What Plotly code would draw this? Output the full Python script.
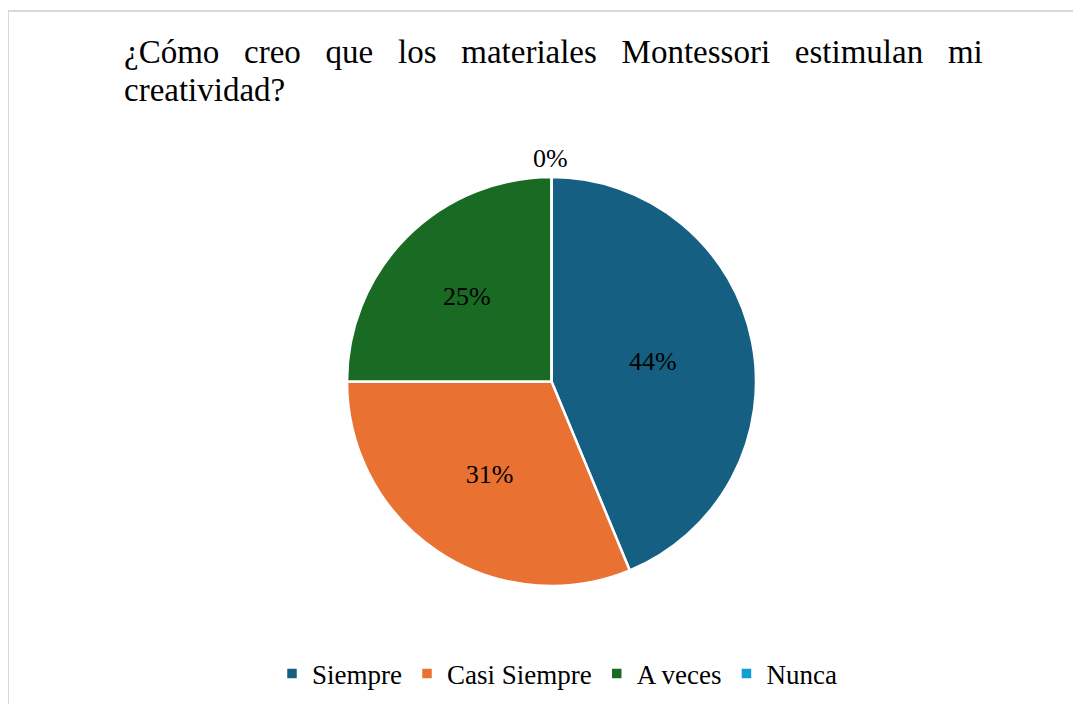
import plotly.graph_objects as go

# ---- data ----------------------------------------------------------------
LABELS = ["Siempre", "Casi Siempre", "A veces", "Nunca"]
COUNTS = [7, 5, 4, 0]
COLORS = ["#156082", "#E97132", "#196B24", "#0F9ED5"]
TITLE_LINE1 = ["¿Cómo", "creo", "que", "los", "materiales", "Montessori", "estimulan", "mi"]
TITLE_LINE2 = "creatividad?"

W, H = 1081, 704
SERIF = "Liberation Serif"
OFF = 8  # page body margin

# pie box in page pixels (center ~ 551,381, radius ~ 204)
px_l, px_r, px_t, px_b = 347 - OFF, 756 - OFF, 177 - OFF, 586 - OFF

total = sum(COUNTS)
zero_labels = [f"{round(100 * v / total)}%" for v in COUNTS if v == 0]

fig = go.Figure(
    go.Pie(
        labels=LABELS, values=COUNTS, sort=False, direction="clockwise", rotation=0,
        marker=dict(colors=COLORS, line=dict(color="white", width=2.5)),
        texttemplate="%{percent:.0%}",
        textposition=["inside" if v else "none" for v in COUNTS],
        insidetextorientation="horizontal",
        textfont=dict(family=SERIF, size=26, color="black"),
        domain=dict(x=[px_l / W, px_r / W], y=[1 - px_b / H, 1 - px_t / H]),
        showlegend=True,
    )
)

gap = "\u00a0" * 3
annotations = [
    dict(text=gap.join(TITLE_LINE1), x=(122 - OFF) / W, y=1 - (52 - OFF) / H, xref="paper", yref="paper",
         xanchor="left", yanchor="middle", showarrow=False,
         font=dict(family=SERIF, size=33, color="black")),
    dict(text=TITLE_LINE2, x=(122 - OFF) / W, y=1 - (90 - OFF) / H, xref="paper", yref="paper",
         xanchor="left", yanchor="middle", showarrow=False,
         font=dict(family=SERIF, size=33, color="black")),
]
for t in zero_labels:
    annotations.append(dict(text=t, x=(550 - OFF) / W, y=1 - (158 - OFF) / H, xref="paper", yref="paper",
                            xanchor="center", yanchor="middle", showarrow=False,
                            font=dict(family=SERIF, size=26, color="black")))

fig.update_layout(
    width=W, height=H,
    margin=dict(l=0, r=0, t=0, b=0),
    paper_bgcolor="white", plot_bgcolor="white",
    font=dict(family=SERIF, size=26, color="black"),
    legend=dict(orientation="h", x=(557 - OFF) / W, xanchor="center", y=1 - (674 - OFF) / H, yanchor="middle",
                font=dict(family=SERIF, size=27, color="black"), itemwidth=30),
    annotations=annotations,
    shapes=[dict(type="rect", xref="paper", yref="paper", x0=0, x1=1.05, y0=-0.05, y1=1 - 3 / H,
                 line=dict(color="#d9d9d9", width=2), fillcolor="rgba(0,0,0,0)")],
)

fig.write_html("out.html")
